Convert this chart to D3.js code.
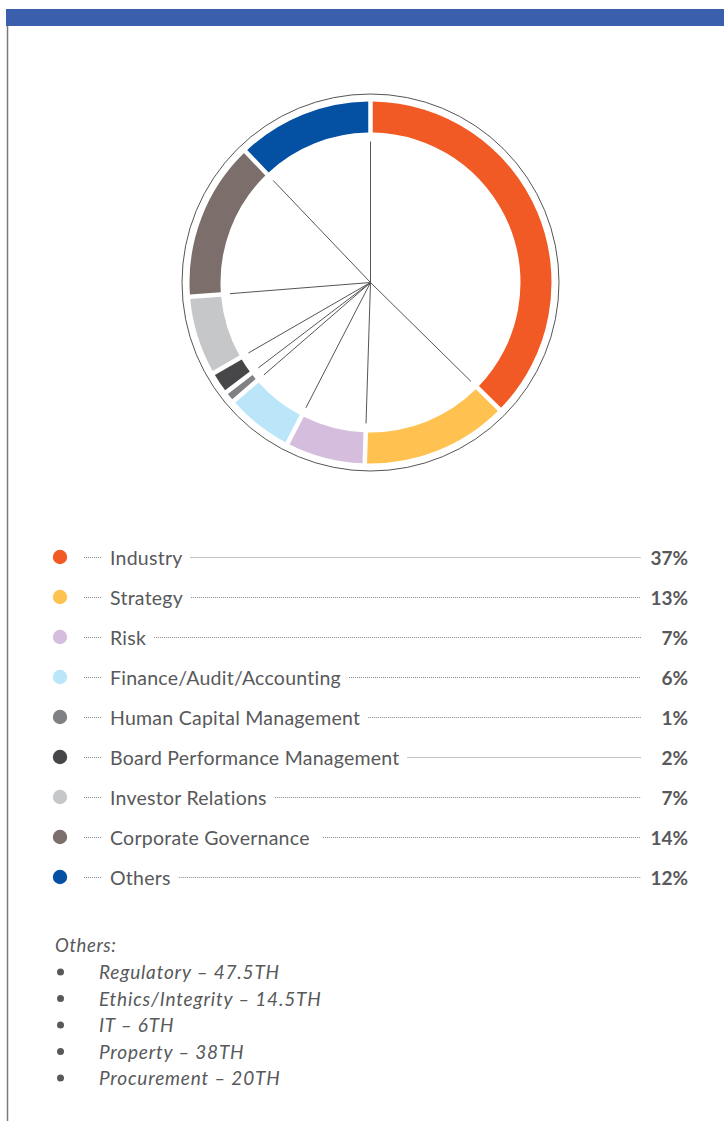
<!DOCTYPE html>
<html>
<head>
<meta charset="utf-8">
<script src="https://cdn.jsdelivr.net/npm/d3@7"></script>
<style>
  html, body { margin: 0; padding: 0; background: #fff; }
  svg { display: block; }
  text { font-family: Lato, "Open Sans", sans-serif; fill: #58595b; }
</style>
</head>
<body>
<svg id="chart" width="724" height="1121"></svg>
<script>
// ---- data ----
const categories = ["Industry", "Strategy", "Risk", "Finance/Audit/Accounting",
  "Human Capital Management", "Board Performance Management", "Investor Relations",
  "Corporate Governance ", "Others"];
const values = [37, 13, 7, 6, 1, 2, 7, 14, 12];
const colors = ["#f15a24", "#ffc250", "#d4bddd", "#bbe5f8", "#808184",
  "#474749", "#c6c7c9", "#7b6e6b", "#0450a3"];
const othersTitle = "Others:";
const othersItems = ["Regulatory – 47.5TH", "Ethics/Integrity – 14.5TH", "IT – 6TH",
  "Property – 38TH", "Procurement – 20TH"];

const svg = d3.select("#chart");

// frame
svg.append("rect").attr("x", 6).attr("y", 9).attr("width", 718).attr("height", 17).attr("fill", "#3a5fad");
svg.append("line").attr("x1", 7.5).attr("x2", 7.5).attr("y1", 26).attr("y2", 1121)
  .attr("stroke", "#7a7a7a").attr("stroke-width", 1.5);

// donut
const cx = 370.5, cy = 282.5;
const g = svg.append("g").attr("transform", `translate(${cx},${cy})`);
const pie = d3.pie().sort(null).value(d => d)(values);
const arc = d3.arc().innerRadius(150).outerRadius(181).padRadius(165).padAngle(4.5 / 165);

g.append("circle").attr("r", 188.5).attr("fill", "none").attr("stroke", "#555").attr("stroke-width", 1);

g.selectAll("path.slice").data(pie).join("path")
  .attr("class", "slice")
  .attr("d", arc)
  .attr("fill", (d, i) => colors[i]);

const lineR = 141;
g.selectAll("line.spoke").data(pie).join("line")
  .attr("class", "spoke")
  .attr("x1", 0).attr("y1", 0)
  .attr("x2", d => lineR * Math.sin(d.endAngle))
  .attr("y2", d => -lineR * Math.cos(d.endAngle))
  .attr("stroke", "#555").attr("stroke-width", 1);

// legend
const rowY = d3.scalePoint().domain(categories).range([557, 877]);
const leg = svg.append("g");
const rows = leg.selectAll("g.row").data(categories).join("g")
  .attr("class", "row")
  .attr("transform", d => `translate(0,${rowY(d)})`);

rows.append("circle").attr("cx", 60).attr("cy", 0).attr("r", 7.2)
  .attr("fill", (d, i) => colors[i]);
rows.append("line").attr("x1", 84).attr("x2", 102).attr("y1", 0.5).attr("y2", 0.5)
  .attr("stroke", "#888").attr("stroke-width", 1).attr("stroke-dasharray", "1 1");
const labels = rows.append("text").attr("x", 110).attr("y", 7.5)
  .style("font-size", "19.5px").style("letter-spacing", "0.25px").style("white-space", "pre")
  .attr("xml:space", "preserve")
  .text(d => d);
rows.append("text").attr("x", 688).attr("y", 7.5).attr("text-anchor", "end")
  .style("font-size", "19px").style("font-weight", "bold")
  .text((d, i) => values[i] + "%");
rows.each(function(d, i) {
  const w = labels.nodes()[i].getComputedTextLength();
  d3.select(this).append("line")
    .attr("x1", 110 + w + 8).attr("x2", 641).attr("y1", 0.5).attr("y2", 0.5)
    .attr("stroke", "#888").attr("stroke-width", 1).attr("stroke-dasharray", "1 1");
});

// others list
svg.append("text").attr("x", 55).attr("y", 952)
  .style("font-size", "18.5px").style("letter-spacing", "0.6px").style("font-style", "italic").text(othersTitle);
const itemY = d3.scalePoint().domain(othersItems).range([972, 1078]);
const items = svg.selectAll("g.item").data(othersItems).join("g")
  .attr("class", "item").attr("transform", d => `translate(0,${itemY(d)})`);
items.append("circle").attr("cx", 60.5).attr("cy", 0).attr("r", 3.5).attr("fill", "#58595b");
items.append("text").attr("x", 99).attr("y", 7)
  .style("font-size", "19px").style("letter-spacing", "0.8px").style("font-style", "italic").text(d => d);
</script>
</body>
</html>
